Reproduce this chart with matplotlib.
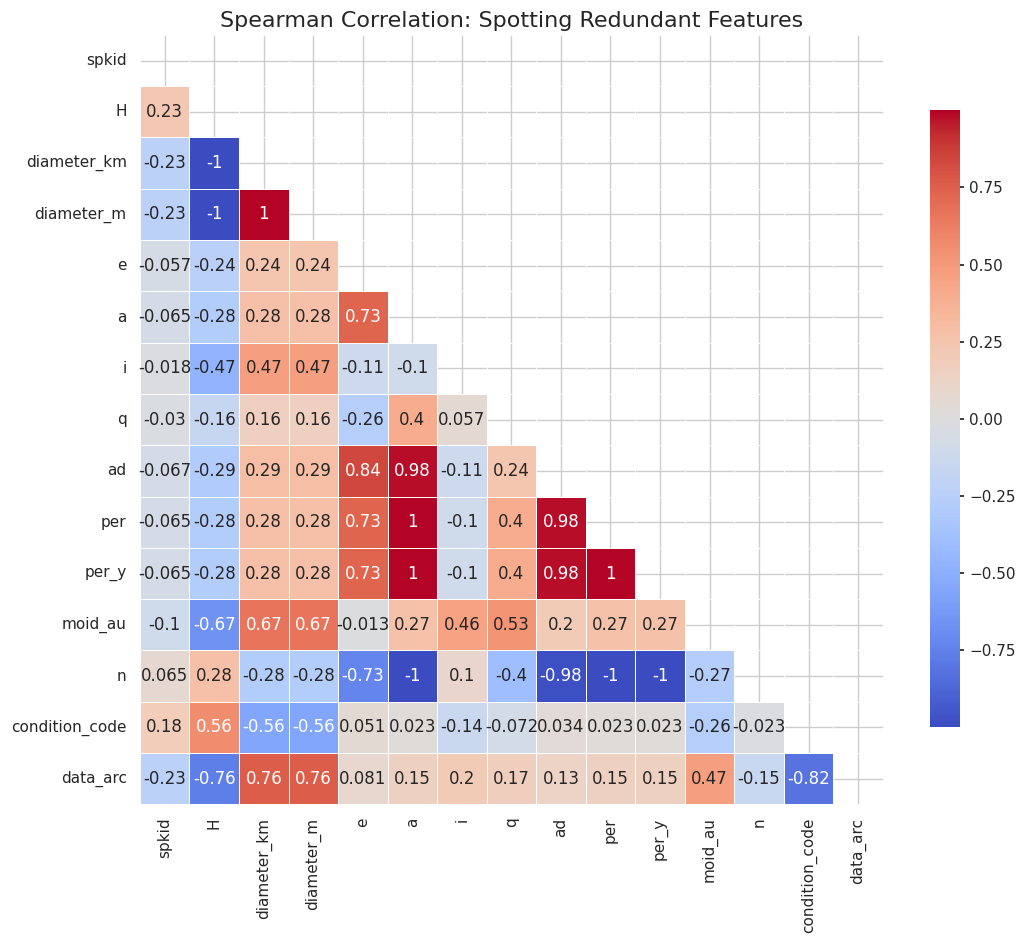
import numpy as np
import pandas as pd
import matplotlib
matplotlib.use("Agg")
import matplotlib.pyplot as plt
import seaborn as sns

features = ["spkid", "H", "diameter_km", "diameter_m", "e", "a", "i", "q", "ad",
            "per", "per_y", "moid_au", "n", "condition_code", "data_arc"]

# lower-triangle rows (values left of the diagonal)
lower_rows = [
    [],
    [0.23],
    [-0.23, -1],
    [-0.23, -1, 1],
    [-0.057, -0.24, 0.24, 0.24],
    [-0.065, -0.28, 0.28, 0.28, 0.73],
    [-0.018, -0.47, 0.47, 0.47, -0.11, -0.1],
    [-0.03, -0.16, 0.16, 0.16, -0.26, 0.4, 0.057],
    [-0.067, -0.29, 0.29, 0.29, 0.84, 0.98, -0.11, 0.24],
    [-0.065, -0.28, 0.28, 0.28, 0.73, 1, -0.1, 0.4, 0.98],
    [-0.065, -0.28, 0.28, 0.28, 0.73, 1, -0.1, 0.4, 0.98, 1],
    [-0.1, -0.67, 0.67, 0.67, -0.013, 0.27, 0.46, 0.53, 0.2, 0.27, 0.27],
    [0.065, 0.28, -0.28, -0.28, -0.73, -1, 0.1, -0.4, -0.98, -1, -1, -0.27],
    [0.18, 0.56, -0.56, -0.56, 0.051, 0.023, -0.14, -0.072, 0.034, 0.023, 0.023, -0.26, -0.023],
    [-0.23, -0.76, 0.76, 0.76, 0.081, 0.15, 0.2, 0.17, 0.13, 0.15, 0.15, 0.47, -0.15, -0.82],
]

n = len(features)
mat = np.eye(n)
for r, row in enumerate(lower_rows):
    for c, v in enumerate(row):
        mat[r, c] = v
        mat[c, r] = v
corr = pd.DataFrame(mat, index=features, columns=features)
mask = np.triu(np.ones_like(mat, dtype=bool))

sns.set_theme(style="whitegrid")

fig = plt.figure(figsize=(10.29, 9.43), dpi=100)
ax = fig.add_axes([0.136, 0.147, 0.722, 0.816])
cax = fig.add_axes([0.904, 0.229, 0.029, 0.654])

sns.heatmap(corr, mask=mask, annot=True, cmap="coolwarm", vmin=-1, vmax=1,
            linewidths=0.5, linecolor="white", ax=ax, cbar_ax=cax)
ax.set_title("Spearman Correlation: Spotting Redundant Features", fontsize=16)
cax.set_yticks([-0.75, -0.5, -0.25, 0, 0.25, 0.5, 0.75])
cax.tick_params(length=3)

fig.savefig("out.png", dpi=100)
